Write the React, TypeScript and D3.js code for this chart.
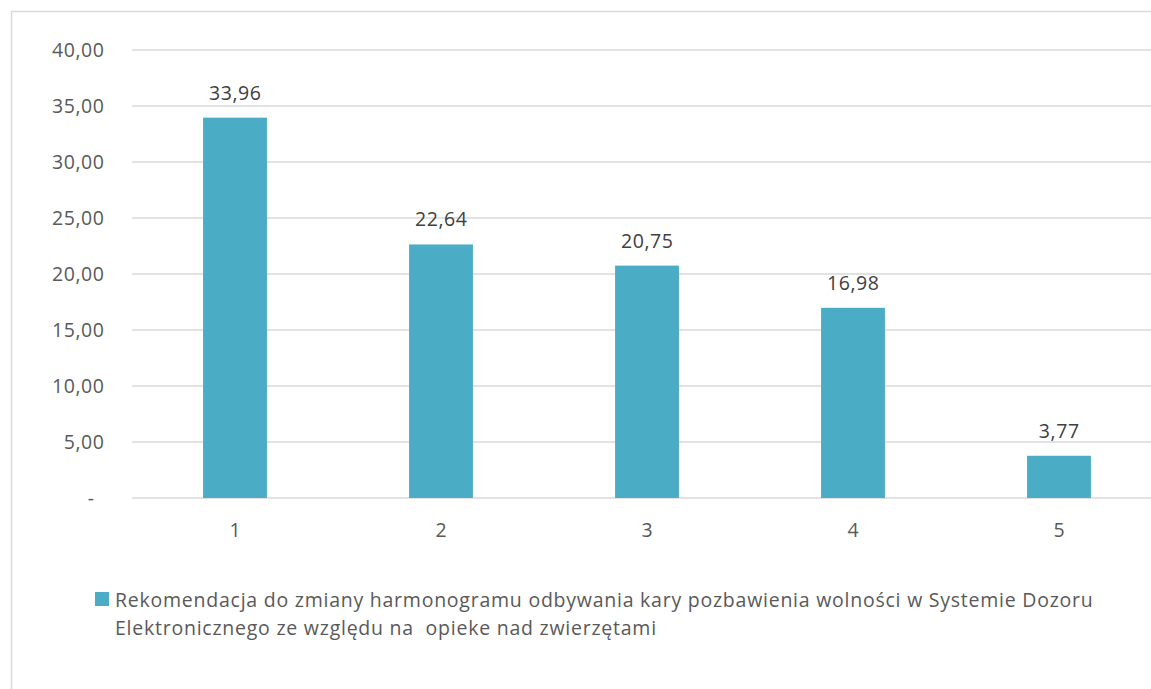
import React from "react";
import * as d3 from "d3";

const categories = ["1", "2", "3", "4", "5"];
const values = [33.96, 22.64, 20.75, 16.98, 3.77];
const yTicks = [0, 5, 10, 15, 20, 25, 30, 35, 40];
const legendLines = [
  "Rekomendacja do zmiany harmonogramu odbywania kary pozbawienia wolności w Systemie Dozoru",
  "Elektronicznego ze względu na  opieke nad zwierzętami",
];

const W = 1151;
const H = 689;
const plot = { left: 132, right: 1162, top: 50, bottom: 498 };
const FONT = "'Open Sans', 'Noto Sans', sans-serif";
const FS = 19.5;
const LS = 0.6;
const LEG_LS = 0.76;
const barColor = "#4BACC6";

const fmt = (v: number) => (v === 0 ? "-" : v.toFixed(2).replace(".", ","));

export default function App() {
  const x = d3.scaleBand<string>().domain(categories).range([plot.left, plot.right]).paddingInner(0.69).paddingOuter(0.345);
  const y = d3.scaleLinear().domain([0, 40]).range([plot.bottom, plot.top]);
  const bw = x.bandwidth();
  return (
    <svg width={W} height={H} style={{ position: "absolute", left: 0, top: 0, background: "#fff" }}>
      <rect x={11.5} y={11.5} width={W + 10} height={H + 10} fill="#fff" stroke="#d9d9d9" strokeWidth={1.5} />
      {yTicks.map((t) => (
        <g key={t}>
          <line x1={plot.left} x2={plot.right} y1={y(t)} y2={y(t)} stroke="#d9d9d9" strokeWidth={1.5} />
          <text x={t === 0 ? 94 + LS : 104 + LS} y={y(t) + 7} textAnchor="end" fontFamily={FONT} fontSize={FS} letterSpacing={LS} fill="#595959">
            {fmt(t)}
          </text>
        </g>
      ))}
      {categories.map((c, i) => (
        <g key={c}>
          <rect x={x(c)} y={y(values[i])} width={bw} height={y(0) - y(values[i])} fill={barColor} />
          <text x={(x(c) as number) + bw / 2 + LS / 2} y={y(values[i]) - 18} textAnchor="middle" fontFamily={FONT} fontSize={FS} letterSpacing={LS} fill="#404040">
            {fmt(values[i])}
          </text>
          <text x={(x(c) as number) + bw / 2 + LS / 2} y={537} textAnchor="middle" fontFamily={FONT} fontSize={FS} letterSpacing={LS} fill="#595959">
            {c}
          </text>
        </g>
      ))}
      <rect x={95} y={592} width={14} height={14} fill={barColor} />
      {legendLines.map((l, i) => (
        <text key={i} x={115} y={607 + i * 28} fontFamily={FONT} fontSize={FS} letterSpacing={LEG_LS} fill="#595959" style={{ whiteSpace: "pre" }}>
          {l}
        </text>
      ))}
    </svg>
  );
}
